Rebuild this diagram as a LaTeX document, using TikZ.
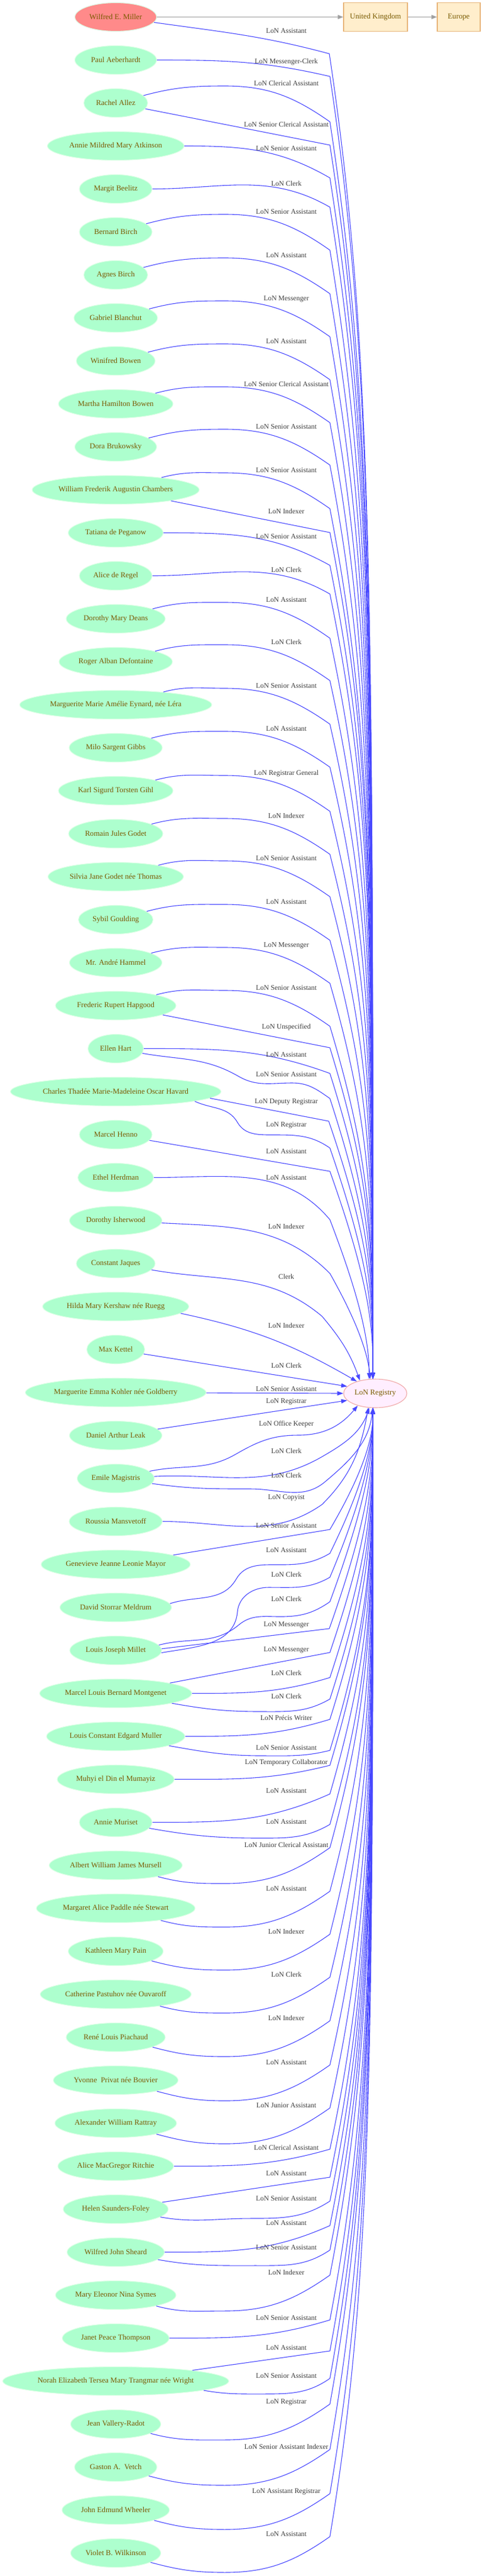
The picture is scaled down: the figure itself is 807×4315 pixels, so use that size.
\documentclass[tikz,border=0pt]{standalone}
\usepackage{fontspec}
\setmainfont{Liberation Serif}
\usetikzlibrary{arrows.meta,shapes.geometric}
\definecolor{pfill}{HTML}{ADFFCE}
\definecolor{pborder}{HTML}{DDFFE6}
\definecolor{wred}{HTML}{FF8A8A}
\definecolor{ntext}{HTML}{7A5A00}
\definecolor{rfill}{HTML}{FFEEFF}
\definecolor{rborder}{HTML}{F0A8A8}
\definecolor{bfill}{HTML}{FFEECC}
\definecolor{bborder}{HTML}{E8B478}
\definecolor{eblue}{HTML}{4848FF}
\definecolor{egray}{HTML}{A0A0A0}
\definecolor{ltext}{HTML}{3C3C3C}
\newcommand\mynodefont{\fontsize{12.7}{14}\selectfont}
\newcommand\mylabfont{\fontsize{11.8}{13}\selectfont}
\tikzset{
  person/.style={ellipse, fill=pfill, draw=pborder, line width=1.1pt, minimum height=48pt, inner sep=0pt, text=ntext, font=\mynodefont},
  regnode/.style={ellipse, fill=rfill, draw=rborder, line width=1.1pt, minimum width=106pt, minimum height=48pt, inner sep=0pt, text=ntext, font=\mynodefont},
  boxnode/.style={rectangle, fill=bfill, draw=bborder, line width=1.3pt, minimum height=48pt, inner sep=0pt, text=ntext, font=\mynodefont},
  eline/.style={draw=eblue, line width=1.1pt, -{Triangle[length=10pt,width=7pt]}},
  gedge/.style={draw=egray, line width=1.1pt, -{Triangle[length=9pt,width=7pt]}},
  lab/.style={text=ltext, font=\mylabfont, inner sep=0pt},
}
\newcommand\xP[3]{\node[person, minimum width=#2pt] (n#1) at (194,{-(28.5+72*#1)}) {#3};}
\newcommand\xLAB[2]{\node[lab, anchor=base] at (480,{-(#1+4)}) {#2};}
\newcommand\xETU[3]{%
  \pgfmathsetmacro\xDd{2310-#2}%
  \pgfmathsetmacro\xPa{-(#2+min(150+0.15*\xDd,0.6*\xDd))}%
  \pgfmathsetmacro\xPb{-(#2+min(150+0.35*\xDd,0.85*\xDd))}%
  \draw[eline] #1 .. controls (625,\xPa) and (625,\xPb) .. (reg.#3);}
\newcommand\xETL[3]{%
  \pgfmathsetmacro\xDd{#2-2358}%
  \pgfmathsetmacro\xPa{-(#2-min(150+0.15*\xDd,0.6*\xDd))}%
  \pgfmathsetmacro\xPb{-(#2-min(150+0.35*\xDd,0.85*\xDd))}%
  \draw[eline] #1 .. controls (625,\xPa) and (625,\xPb) .. (reg.#3);}
\newcommand\xUA[4]{%
  \pgfmathsetmacro\xKa{#2+5}\pgfmathsetmacro\xKb{#2+65}%
  \xETU{(#1) to[out=15,in=180] (377,-\xKa) to[out=0,in=145] (553,-\xKb)}{\xKb}{#3}%
  \xLAB{#2}{#4}}
\newcommand\xUB[5]{%
  \pgfmathsetmacro\xKb{#2+#3}%
  \xETU{(#1) -- (553,-\xKb)}{\xKb}{#4}\xLAB{#2}{#5}}
\newcommand\xUC[6]{%
  \pgfmathsetmacro\xKb{#2+#3}%
  \xETU{(#1) to[out=0,in=#4] (553,-\xKb)}{\xKb}{#5}\xLAB{#2}{#6}}
\newcommand\xLA[4]{%
  \pgfmathsetmacro\xKa{#2+65}\pgfmathsetmacro\xKb{#2+5}%
  \xETL{(#1) to[out=-15,in=180] (377,-\xKa) to[out=0,in=-145] (553,-\xKb)}{\xKb}{#3}%
  \xLAB{#2}{#4}}
\newcommand\xLB[5]{%
  \pgfmathsetmacro\xKb{#2+#3}%
  \xETL{(#1) -- (553,-\xKb)}{\xKb}{#4}\xLAB{#2}{#5}}
\newcommand\xLC[6]{%
  \pgfmathsetmacro\xKb{#2+#3}%
  \xETL{(#1) to[out=0,in=#4] (553,-\xKb)}{\xKb}{#5}\xLAB{#2}{#6}}
\newcommand\xLD[7]{%
  \pgfmathsetmacro\xKa{#2+#4}\pgfmathsetmacro\xKb{#2+5}%
  \xETL{(#1) to[out=-10,in=180] (#3,-\xKa) to[out=0,in=#5] (553,-\xKb)}{\xKb}{#6}\xLAB{#2}{#7}}
\begin{document}
\begin{tikzpicture}[x=1pt,y=1pt]
\fill[white] (0,0) rectangle (807,-4315);
\useasboundingbox (0,0) rectangle (807,-4315);
% ---------- nodes ----------
\node[person, fill=wred, minimum width=137pt] (n0) at (194,-28.5) {Wilfred E. Miller};
\xP{1}{137}{Paul Aeberhardt}
\xP{2}{107}{Rachel Allez}
\xP{3}{229}{Annie Mildred Mary Atkinson}
\xP{4}{122}{Margit Beelitz}
\xP{5}{122}{Bernard Birch}
\xP{6}{107}{Agnes Birch}
\xP{7}{140}{Gabriel Blanchut}
\xP{8}{132}{Winifred Bowen}
\xP{9}{192}{Martha Hamilton Bowen}
\xP{10}{137}{Dora Brukowsky}
\xP{11}{280}{William Frederik Augustin Chambers}
\xP{12}{159}{Tatiana de Peganow}
\xP{13}{122}{Alice de Regel}
\xP{14}{166}{Dorothy Mary Deans}
\xP{15}{190}{Roger Alban Defontaine}
\xP{16}{322}{Marguerite Marie Amélie Eynard, née Léra}
\xP{17}{156}{Milo Sargent Gibbs}
\xP{18}{192}{Karl Sigurd Torsten Gihl}
\xP{19}{158}{Romain Jules Godet}
\xP{20}{227}{Silvia Jane Godet née Thomas}
\xP{21}{125}{Sybil Goulding}
\xP{22}{155}{Mr. André Hammel}
\xP{23}{202}{Frederic Rupert Hapgood}
\xP{24}{93}{Ellen Hart}
\xP{25}{353}{Charles Thadée Marie-Madeleine Oscar Havard}
\xP{26}{122}{Marcel Henno}
\xP{27}{127}{Ethel Herdman}
\xP{28}{155}{Dorothy Isherwood}
\xP{29}{132}{Constant Jaques}
\xP{30}{245}{Hilda Mary Kershaw née Ruegg}
\xP{31}{97}{Max Kettel}
\xP{32}{303}{Marguerite Emma Kohler née Goldberry}
\xP{33}{155}{Daniel Arthur Leak}
\xP{34}{129}{Emile Magistris}
\xP{35}{156}{Roussia Mansvetoff}
\xP{36}{250}{Genevieve Jeanne Leonie Mayor}
\xP{37}{187}{David Storrar Meldrum}
\xP{38}{154}{Louis Joseph Millet}
\xP{39}{255}{Marcel Louis Bernard Montgenet}
\xP{40}{232}{Louis Constant Edgard Muller}
\xP{41}{196}{Muhyi el Din el Mumayiz}
\xP{42}{122}{Annie Muriset}
\xP{43}{223}{Albert William James Mursell}
\xP{44}{266}{Margaret Alice Paddle née Stewart}
\xP{45}{159}{Kathleen Mary Pain}
\xP{46}{253}{Catherine Pastuhov née Ouvaroff}
\xP{47}{166}{René Louis Piachaud}
\xP{48}{209}{Yvonne\ \ Privat née Bouvier}
\xP{49}{204}{Alexander William Rattray}
\xP{50}{194}{Alice MacGregor Ritchie}
\xP{51}{176}{Helen Saunders-Foley}
\xP{52}{163}{Wilfred John Sheard}
\xP{53}{202}{Mary Eleonor Nina Symes}
\xP{54}{179}{Janet Peace Thompson}
\xP{55}{379}{Norah Elizabeth Tersea Mary Trangmar née Wright}
\xP{56}{151}{Jean Vallery-Radot}
\xP{57}{138}{Gaston A.\ \ Vetch}
\xP{58}{180}{John Edmund Wheeler}
\xP{59}{151}{Violet B. Wilkinson}
\node[boxnode, minimum width=107pt] (uk) at (629.5,-28.5) {United Kingdom};
\node[boxnode, minimum width=72pt] (eu) at (769,-28.5) {Europe};
\node[regnode] (reg) at (629,-2334) {LoN Registry};
% ---------- grey edges ----------
\draw[gedge] (n0) -- (uk);
\draw[gedge] (uk) -- (eu);
% ---------- edges above the registry ----------
\xETU{(n0) to[out=-8,in=165] (552,-90)}{90}{99}\xLAB{51}{LoN Assistant}
\xUC{n1}{102}{26}{167}{99}{LoN Messenger-Clerk}
\xUA{n2}{139}{99}{LoN Clerical Assistant}
\xUB{n2}{208}{35}{99}{LoN Senior Clerical Assistant}
\xUC{n3}{248}{50}{150}{99}{LoN Senior Assistant}
\xUC{n4}{307}{40}{150}{99}{LoN Clerk}
\xUA{n5}{354}{99}{LoN Senior Assistant}
\xUA{n6}{427}{99}{LoN Assistant}
\xUA{n7}{499}{99}{LoN Messenger}
\xUA{n8}{571}{99}{LoN Assistant}
\xUA{n9}{643}{99}{LoN Senior Clerical Assistant}
\xUA{n10}{714}{99}{LoN Senior Assistant}
\xUA{n11}{787}{99}{LoN Senior Assistant}
\xUB{n11}{856}{36}{99}{LoN Indexer}
\xUC{n12}{898}{49}{151}{99}{LoN Senior Assistant}
\xUC{n13}{954}{41}{150}{99}{LoN Clerk}
\xUA{n14}{1004}{99}{LoN Assistant}
\xUA{n15}{1075}{99}{LoN Clerk}
\xUA{n16}{1148}{99}{LoN Senior Assistant}
\xUA{n17}{1220}{99}{LoN Assistant}
\xUA{n18}{1294}{99}{LoN Registrar General}
\xUA{n19}{1366}{99}{LoN Indexer}
\xUA{n20}{1437}{99}{LoN Senior Assistant}
\xUA{n21}{1510}{99}{LoN Assistant}
\xUA{n22}{1582}{99}{LoN Messenger}
\xUA{n23}{1654}{99}{LoN Senior Assistant}
\xUB{n23}{1719}{36}{99}{LoN Unspecified}
\xUC{n24}{1766}{32}{160}{99}{LoN Assistant}
\xETU{(n24) to[out=-10,in=150] (400,-1803) to[out=-30,in=180] (490,-1814) to[out=0,in=145] (553,-1840)}{1840}{99}\xLAB{1799}{LoN Senior Assistant}
\xETU{(n25.-4) -- (551,-1878)}{1878}{99}\xLAB{1844}{LoN Deputy Registrar}
\xETU{(n25.-7) to[out=-25,in=120] (398,-1880) to[out=-60,in=180] (455,-1901) to[out=0,in=145] (553,-1923)}{1923}{99}\xLAB{1883}{LoN Registrar}
\xUB{n26}{1928}{34}{99}{LoN Assistant}
\draw[eline] (n27) to[out=0,in=130] (553,-2043) .. controls (598,-2160) and (619,-2240) .. (reg.113);
\xLAB{1972}{LoN Assistant}
\draw[eline] (n28) to[out=-3,in=135] (553,-2133) .. controls (588,-2195) and (615,-2255) .. (reg.109);
\xLAB{2054}{LoN Indexer}
\draw[eline] (n29) to[out=-10,in=140] (540,-2205) to[out=-50,in=110] (reg.140);
\xLAB{2138}{Clerk}
\draw[eline] (n30.-6) to[out=-12,in=150] (reg.147);
\xLAB{2220}{LoN Indexer}
% ---------- edges level with the registry ----------
\draw[eline] (n31) -- (reg.166);
\xLAB{2287}{LoN Clerk}
\draw[eline] (n32) -- (reg.west);
\xLAB{2326}{LoN Senior Assistant}
\draw[eline] (n33) -- (reg.194);
\xLAB{2346}{LoN Registrar}
% ---------- edges below the registry ----------
\draw[eline] (n34) to[out=12,in=-150] (395,-2436) to[out=30,in=180] (500,-2404) to[out=0,in=-130] (reg.215);
\xLAB{2384}{LoN Office Keeper}
\draw[eline] (n34) to[out=3,in=-150] (540,-2440) to[out=30,in=-110] (reg.248);
\xLAB{2430}{LoN Clerk}
\draw[eline] (n34) to[out=-8,in=180] (420,-2494) to[out=0,in=-140] (545,-2482) to[out=40,in=-97] (reg.261);
\xLAB{2471}{LoN Clerk}
\draw[eline] (n35) to[out=0,in=-145] (540,-2520) to[out=45,in=-100] (reg.244);
\xLAB{2507}{LoN Copyist}
\xLB{n36}{2555}{7}{261}{LoN Senior Assistant}
\xETL{(n37.4) to[out=18,in=-120] (396,-2645) to[out=60,in=180] (470,-2621) to[out=0,in=-150] (553,-2602)}{2602}{261}\xLAB{2596}{LoN Assistant}
\xETL{(n38.-3) to[out=10,in=-95] (398,-2700) to[out=85,in=180] (450,-2659) to[out=0,in=-150] (553,-2642)}{2642}{261}\xLAB{2637}{LoN Clerk}
\xETL{(n38.7) to[out=15,in=-140] (400,-2722) to[out=40,in=180] (470,-2708) to[out=0,in=-145] (553,-2683)}{2683}{261}\xLAB{2678}{LoN Clerk}
\xETL{(n38.2) -- (552,-2728)}{2728}{261}\xLAB{2720}{LoN Messenger}
\xLB{n39}{2762}{6}{261}{LoN Messenger}
\xLC{n39}{2802}{8}{-163}{261}{LoN Clerk}
\xLD{n39}{2841}{439}{26}{-150}{261}{LoN Clerk}
\xLC{n40}{2877}{3}{-163}{261}{LoN Précis Writer}
\xLD{n40}{2927}{440}{14}{-166}{261}{LoN Senior Assistant}
\xLC{n41}{2951}{6}{-166}{261}{LoN Temporary Collaborator}
\xLC{n42}{2999}{6}{-156}{261}{LoN Assistant}
\xLD{n42}{3051}{439}{28}{-150}{261}{LoN Assistant}
\xLA{n43}{3090}{261}{LoN Junior Clerical Assistant}
\xLA{n44}{3163}{261}{LoN Assistant}
\xLA{n45}{3235}{261}{LoN Indexer}
\xLA{n46}{3307}{261}{LoN Clerk}
\xLA{n47}{3380}{261}{LoN Indexer}
\xLA{n48}{3454}{261}{LoN Assistant}
\xLA{n49}{3526}{261}{LoN Junior Assistant}
\xLC{n50}{3597}{3}{-164}{261}{LoN Clerical Assistant}
\xLB{n51}{3640}{7}{261}{LoN Assistant}
\xLD{n51}{3682}{420}{34}{-147}{261}{LoN Senior Assistant}
\xLC{n52}{3723}{5}{-156}{261}{LoN Assistant}
\xLD{n52}{3764}{429}{31}{-146}{261}{LoN Senior Assistant}
\xLA{n53}{3806}{261}{LoN Indexer}
\xLC{n54}{3882}{4}{-163}{261}{LoN Senior Assistant}
\xLB{n55}{3932}{6}{261}{LoN Assistant}
\xLD{n55.-6}{3979}{439}{31}{-145}{261}{LoN Senior Assistant}
\xLA{n56}{4022}{261}{LoN Registrar}
\xLA{n57}{4098}{261}{LoN Senior Assistant Indexer}
\xLA{n58}{4172}{261}{LoN Assistant Registrar}
\xLA{n59}{4244}{261}{LoN Assistant}
\end{tikzpicture}
\end{document}
